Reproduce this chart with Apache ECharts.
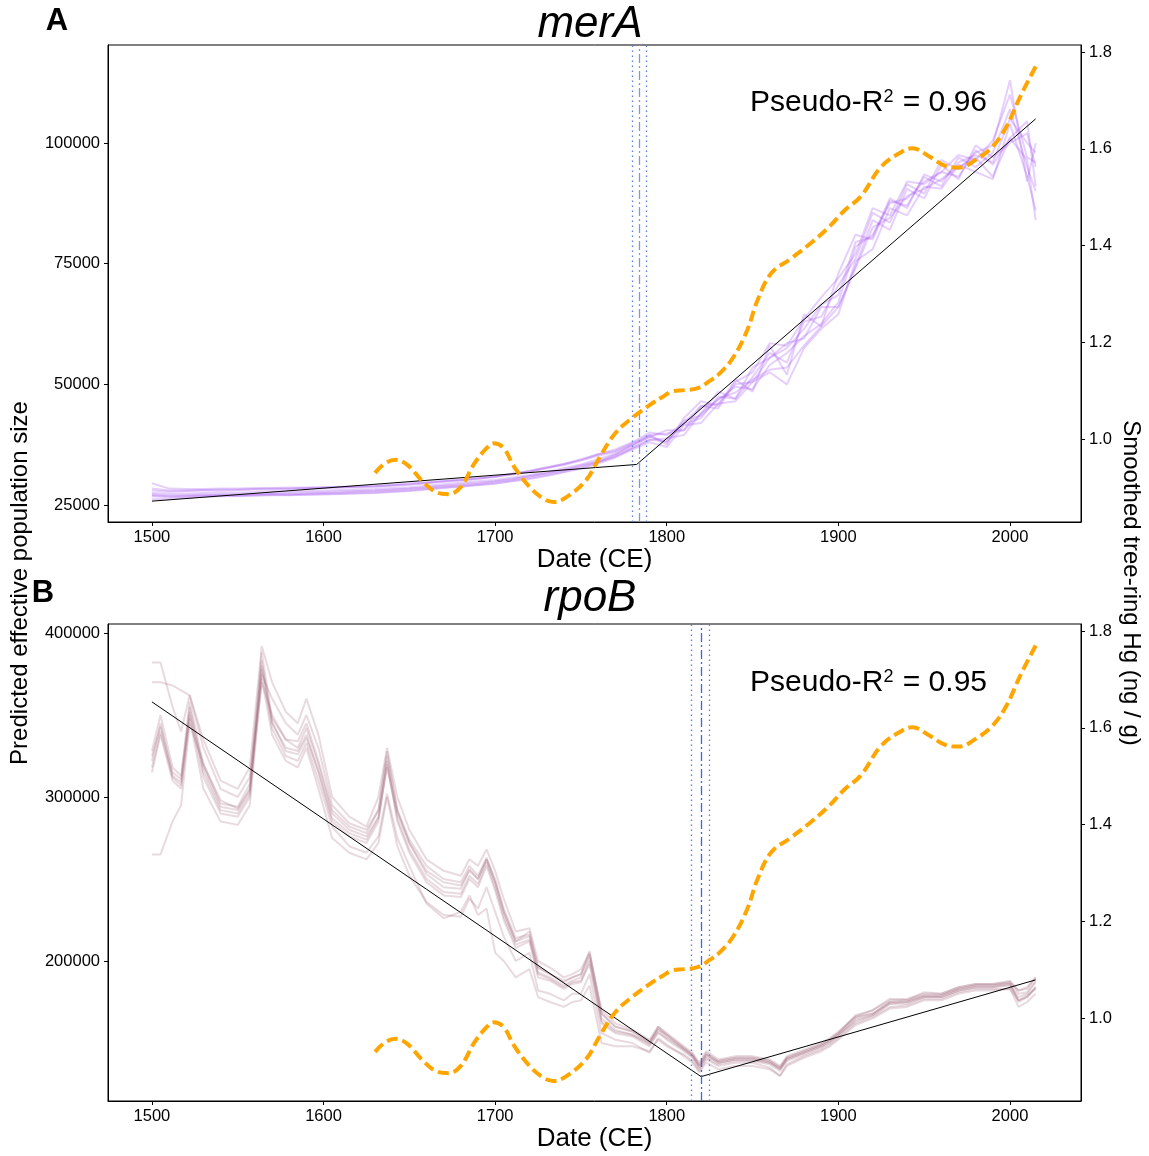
<!DOCTYPE html>
<html><head><meta charset="utf-8">
<script src="https://cdn.jsdelivr.net/npm/echarts@6/dist/echarts.min.js"></script>
<style>html,body{margin:0;padding:0;background:#fff}#c{width:1149px;height:1156px}</style>
</head><body><div id="c"></div>
<script>
// ---------- DATA ----------
const xTicks = [1500, 1600, 1700, 1800, 1900, 2000];
const leftTicksA = [25000, 50000, 75000, 100000];
const leftTicksB = [200000, 300000, 400000];
const rightTicks = [1.0, 1.2, 1.4, 1.6, 1.8];

// Panel A (merA) replicate trajectories
const yearsA = [1500,1510,1520,1530,1540,1550,1560,1570,1580,1590,1600,1610,1620,1630,1640,1650,1660,1670,1680,1690,1700,1710,1720,1730,1740,1750,1760,1770,1780,1790,1800,1810,1820,1830,1840,1850,1860,1870,1880,1890,1900,1910,1920,1930,1940,1950,1960,1970,1980,1990,2000,2010,2015];
const merA_r1 = [27000,26800,26900,27000,27100,27000,27200,27300,27200,27400,27500,27600,27800,27900,28100,28300,28600,28900,29100,29400,29800,30300,30900,31500,32200,33000,34000,35500,37500,39500,37500,43000,46500,45500,51000,48500,58000,52000,64500,62000,73000,81000,80000,88000,87000,93000,91000,97000,95000,98000,107000,95000,90000];
const merA_r2 = [28000,27800,27900,28000,28000,28100,28200,28200,28300,28400,28500,28600,28700,28800,29000,29200,29500,29800,30100,30400,30800,31300,31900,32600,33300,34200,35200,36000,37500,39000,40500,40500,44000,48500,47000,53500,55500,58500,59500,66000,66000,74500,84000,82000,90500,88500,95500,92500,99500,97000,100000,102000,95000];
const merA_r3 = [26200,26300,26500,26700,26800,26800,26900,27000,27000,27100,27200,27300,27400,27500,27700,27900,28200,28500,28800,29100,29400,29900,30400,31000,31800,32500,33600,34800,36500,38000,37000,41500,42000,46000,46500,50500,52500,50000,57500,61500,64500,75500,78000,86500,85000,91000,90500,95500,94000,92500,104000,93000,86000];
const merA_r4 = [29500,28400,28300,28300,28400,28400,28500,28500,28600,28600,28700,28800,28900,29000,29200,29500,29700,30000,30300,30600,30900,31400,32000,32700,33500,34300,35500,36500,38000,40000,39500,42000,45500,45000,50500,52500,58500,58000,63500,68000,72000,77000,86500,85000,92000,91500,94000,97500,96500,100500,110000,97000,96000];
const merA_r5 = [27200,27000,27000,27100,27200,27300,27300,27400,27500,27600,27700,27800,27900,28000,28200,28400,28700,29000,29300,29600,29900,30400,31000,31600,32300,33200,34000,35000,36800,38500,38800,39500,44000,46800,49500,49000,54000,56500,60000,62500,67000,78500,81000,87500,88500,92000,94000,93000,98500,95500,101000,104500,91000];
const merA_r6 = [26800,26600,26700,26800,26900,26900,27000,27100,27100,27200,27300,27400,27500,27600,27800,28000,28300,28600,28900,29200,29500,30000,30600,31200,31900,32700,33800,35200,36800,38500,38200,41800,43000,47500,47000,51500,56500,54500,63000,64000,70500,76000,85500,83500,91500,89500,96500,94500,98000,99500,113000,92000,100000];
const merA_r7 = [28400,28000,28000,28100,28200,28200,28300,28400,28400,28500,28600,28700,28800,28900,29100,29300,29600,29900,30200,30500,30900,31500,32100,32800,33500,34500,35500,36200,37800,39500,39800,40500,45500,46000,50000,50500,55500,57500,61500,66500,68500,79500,80500,88500,86500,93500,92000,96000,97500,96000,105000,100000,98000];
const merA_r8 = [27500,27400,27400,27500,27600,27600,27700,27800,27800,27900,28000,28100,28200,28300,28500,28700,29000,29300,29600,29900,30200,30700,31200,31800,32600,33400,34500,35600,37200,39200,38000,42500,43500,47000,48300,51000,53000,53500,58000,62000,66000,74000,82500,84500,89000,90500,92500,95000,97000,93000,101000,96500,84000];
const merA_fitYears = [1500, 1782.5, 2015];
const merA_fitVals = [25800, 33400, 105000];
const merA_break = [1780, 1784, 1788]; // lower CI, estimate, upper CI

// Panel B (rpoB) replicate trajectories
const yearsB = [1500,1505,1512,1517,1522,1530,1540,1550,1557,1564,1570,1578,1585,1590,1597,1605,1615,1625,1632,1637,1643,1650,1660,1670,1680,1685,1690,1695,1700,1705,1712,1720,1725,1732,1740,1745,1750,1755,1762,1770,1780,1790,1795,1800,1810,1815,1819,1823,1830,1840,1850,1860,1866,1870,1880,1890,1895,1900,1910,1920,1930,1940,1950,1960,1970,1980,1990,2000,2005,2010,2015];
const rpoB_r1 = [322000,345000,313000,309000,355000,315000,292000,290000,302000,383000,345000,330000,328000,338000,315000,285000,276000,272000,285000,322000,285000,266000,248000,240000,239000,250000,245000,258000,243000,225000,208000,212000,190000,188000,183000,186000,187000,200000,162000,156000,154000,148000,157000,152000,145000,141000,134000,141000,137000,139000,139000,137000,133000,139000,143000,147000,150000,154000,164000,167000,174000,174000,178000,178000,182000,184000,184000,185000,178000,180000,187000];
const rpoB_r2 = [382000,382000,355000,340000,362000,335000,310000,305000,318000,392000,370000,352000,345000,360000,338000,300000,288000,282000,300000,330000,300000,280000,262000,255000,252000,262000,258000,268000,255000,238000,218000,220000,200000,196000,190000,192000,195000,205000,170000,162000,158000,152000,160000,156000,148000,144000,138000,145000,140000,142000,142000,140000,136000,142000,146000,150000,153000,157000,166000,170000,176000,177000,180000,180000,184000,186000,186000,187000,182000,183000,190000];
const rpoB_r3 = [265000,265000,285000,295000,345000,320000,298000,293000,305000,370000,350000,335000,330000,342000,320000,290000,280000,276000,288000,318000,290000,272000,255000,248000,246000,255000,250000,262000,248000,230000,212000,215000,193000,190000,185000,188000,190000,202000,165000,158000,155000,150000,159000,154000,146000,142000,136000,143000,138000,140000,140000,138000,134000,140000,144000,148000,151000,155000,165000,168000,175000,175000,179000,179000,183000,185000,185000,186000,175000,178000,184000];
const rpoB_r4 = [370000,370000,368000,365000,362000,330000,305000,300000,312000,375000,360000,345000,338000,350000,330000,295000,284000,280000,292000,325000,292000,274000,258000,250000,248000,258000,252000,263000,250000,232000,214000,216000,196000,192000,187000,190000,192000,204000,168000,160000,157000,151000,158000,155000,147000,143000,137000,144000,139000,141000,141000,139000,135000,141000,145000,149000,152000,156000,166000,168000,175000,176000,179000,179000,183000,185000,185000,187000,180000,181000,188000];
const rpoB_r5 = [315000,338000,310000,305000,348000,305000,285000,283000,295000,372000,338000,322000,318000,330000,305000,275000,266000,262000,272000,300000,270000,252000,236000,228000,227000,238000,232000,245000,230000,215000,200000,205000,182000,180000,176000,180000,180000,192000,156000,152000,150000,144000,153000,149000,142000,138000,132000,138000,134000,136000,136000,134000,130000,136000,141000,145000,148000,152000,161000,165000,171000,172000,176000,176000,180000,182000,182000,183000,176000,178000,184000];
const rpoB_r6 = [318000,340000,312000,307000,350000,312000,290000,288000,300000,378000,342000,325000,322000,333000,310000,282000,270000,266000,276000,302000,275000,258000,235000,226000,230000,240000,228000,232000,205000,200000,190000,195000,178000,175000,172000,175000,176000,185000,150000,148000,148000,145000,152000,148000,143000,139000,133000,140000,136000,138000,138000,135000,130000,137000,142000,146000,149000,153000,162000,166000,172000,173000,177000,177000,181000,183000,183000,183000,172000,175000,180000];
const rpoB_r7 = [328000,350000,318000,313000,358000,320000,296000,294000,308000,388000,348000,335000,334000,345000,322000,292000,282000,278000,292000,328000,292000,272000,253000,245000,244000,256000,250000,262000,248000,230000,212000,218000,196000,192000,188000,190000,192000,206000,168000,160000,157000,150000,160000,155000,147000,143000,136000,143000,139000,141000,141000,139000,135000,141000,145000,149000,152000,156000,167000,170000,177000,176000,181000,180000,184000,186000,186000,188000,182000,184000,190000];
const rpoB_r8 = [325000,343000,315000,311000,352000,318000,294000,292000,304000,380000,346000,328000,326000,336000,316000,287000,278000,274000,287000,320000,287000,268000,250000,242000,241000,252000,247000,260000,245000,227000,210000,213000,192000,189000,184000,187000,188000,198000,163000,157000,155000,149000,156000,153000,146000,142000,135000,142000,138000,140000,140000,138000,134000,140000,144000,148000,151000,155000,163000,167000,174000,175000,178000,178000,182000,184000,184000,186000,176000,179000,183000];
const rpoB_fitYears = [1500, 1820, 2015];
const rpoB_fitVals = [358000, 129500, 188500];
const rpoB_break = [1814, 1820, 1825];

// Smoothed tree-ring Hg (ng/g), shared by both panels
const hgYears = [1630,1636,1642,1649,1657,1665,1673,1680,1688,1695,1699,1705,1711,1720,1728,1734,1742,1753,1761,1770,1780,1790,1798,1803,1810,1818,1825,1831,1839,1847,1853,1861,1872,1884,1895,1904,1913,1925,1937,1943,1953,1962,1970,1980,1990,1998,2006,2015];
const hgVals  = [0.930,0.950,0.957,0.946,0.915,0.891,0.886,0.901,0.950,0.981,0.991,0.981,0.943,0.901,0.877,0.870,0.881,0.915,0.963,1.012,1.044,1.070,1.088,1.098,1.101,1.105,1.120,1.136,1.170,1.226,1.288,1.343,1.372,1.405,1.440,1.474,1.501,1.563,1.594,1.601,1.584,1.565,1.561,1.577,1.605,1.646,1.708,1.770];

// ---------- CHART ----------
const F = '"Liberation Sans", Arial, Helvetica, sans-serif';
const zip = (xs, ys) => xs.map((x, i) => [x, ys[i]]);
const merA_reps = [merA_r1, merA_r2, merA_r3, merA_r4, merA_r5, merA_r6, merA_r7, merA_r8];
const rpoB_reps = [rpoB_r1, rpoB_r2, rpoB_r3, rpoB_r4, rpoB_r5, rpoB_r6, rpoB_r7, rpoB_r8];

const GL = 108, GW = 973, GH = 477, TOPA = 45, TOPB = 624;
const plain = v => String(v);
const TF = 16.5;

function xAx(gi) {
  return {
    gridIndex: gi, type: 'value', min: 1474.4, max: 2041.4,
    axisLine: { show: true, onZero: false, lineStyle: { color: '#000', width: 1 } },
    axisTick: { show: true, customValues: xTicks, length: 4, lineStyle: { color: '#000' } },
    axisLabel: { customValues: xTicks, fontSize: TF, color: '#000', fontFamily: F, margin: 7, formatter: plain },
    splitLine: { show: false },
    name: 'Date (CE)', nameLocation: 'middle', nameGap: 24,
    nameTextStyle: { fontSize: 26, fontFamily: F, color: '#000' }
  };
}
function yLeft(gi, min, max, ticks) {
  return {
    gridIndex: gi, type: 'value', position: 'left', min: min, max: max,
    axisLine: { show: true, onZero: false, lineStyle: { color: '#000', width: 1 } },
    axisTick: { show: true, customValues: ticks, length: 4, lineStyle: { color: '#000' } },
    axisLabel: { customValues: ticks, fontSize: TF, color: '#000', fontFamily: F, margin: 8, formatter: plain },
    splitLine: { show: false }
  };
}
function yRight(gi) {
  return {
    gridIndex: gi, type: 'value', position: 'right', min: 0.8284, max: 1.8145,
    axisLine: { show: true, onZero: false, lineStyle: { color: '#000', width: 1 } },
    axisTick: { show: true, customValues: rightTicks, length: 4, lineStyle: { color: '#000' } },
    axisLabel: { customValues: rightTicks, fontSize: TF, color: '#000', fontFamily: F, margin: 8,
      formatter: v => Number(v).toFixed(1) },
    splitLine: { show: false }
  };
}

const series = [];
function addPanel(gi, years, reps, color, fitX, fitY, brk, centerColor) {
  const yl = gi * 2, yr = gi * 2 + 1;
  reps.forEach(r => series.push({
    type: 'line', xAxisIndex: gi, yAxisIndex: yl, data: zip(years, r),
    symbol: 'none', silent: true, z: 2,
    lineStyle: { color: color, width: 2 }
  }));
  series.push({
    type: 'line', xAxisIndex: gi, yAxisIndex: yl, data: zip(fitX, fitY),
    symbol: 'none', silent: true, z: 4,
    lineStyle: { color: '#000', width: 1 },
    markLine: {
      silent: true, symbol: ['none', 'none'], label: { show: false },
      data: [
        { xAxis: brk[0], lineStyle: { color: '#5b7fe6', width: 1.3, type: [1.5, 3.5] } },
        { xAxis: brk[2], lineStyle: { color: '#5b7fe6', width: 1.3, type: [1.5, 3.5] } },
        { xAxis: brk[1], lineStyle: { color: centerColor, width: 1.3, type: [9, 3, 2, 3] } }
      ]
    }
  });
  series.push({
    type: 'line', xAxisIndex: gi, yAxisIndex: yr, data: zip(hgYears, hgVals),
    symbol: 'none', smooth: 0.4, silent: true, z: 5,
    lineStyle: { color: '#FFA500', width: 4, type: [11, 5] }
  });
}
addPanel(0, yearsA, merA_reps, 'rgba(165, 85, 240, 0.28)', merA_fitYears, merA_fitVals, merA_break, '#7c97e8');
addPanel(1, yearsB, rpoB_reps, 'rgba(150, 85, 110, 0.22)', rpoB_fitYears, rpoB_fitVals, rpoB_break, '#3f66e6');

const txt = (x, y, text, font, extra) => Object.assign({
  type: 'text', x: x, y: y, silent: true,
  style: { text: text, font: font, fill: '#000', textAlign: 'center', textVerticalAlign: 'middle' }
}, extra || {});

const r2Rich = { s: { fontSize: 18, fontFamily: F, verticalAlign: 'top', padding: [0, 1, 12, 0] } };

const option = {
  animation: false,
  backgroundColor: '#fff',
  grid: [
    { left: GL, top: TOPA, width: GW, height: GH, show: true, borderColor: '#000', borderWidth: 1, backgroundColor: 'transparent', outerBoundsMode: 'none', containLabel: false },
    { left: GL, top: TOPB, width: GW, height: GH, show: true, borderColor: '#000', borderWidth: 1, backgroundColor: 'transparent', outerBoundsMode: 'none', containLabel: false }
  ],
  xAxis: [xAx(0), xAx(1)],
  yAxis: [yLeft(0, 21478, 120300, leftTicksA), yRight(0), yLeft(1, 114634, 405488, leftTicksB), yRight(1)],
  series: series,
  graphic: [
    txt(57, 21, 'A', 'bold 31px ' + F),
    txt(590, 25, 'merA', 'italic 44px ' + F),
    txt(43, 593, 'B', 'bold 31px ' + F),
    txt(590, 599, 'rpoB', 'italic 44px ' + F),
    { type: 'text', x: 987, y: 103, silent: true,
      style: { text: 'Pseudo-R{s|2} = 0.96', font: '30px ' + F, fill: '#000', textAlign: 'right', textVerticalAlign: 'middle', rich: r2Rich } },
    { type: 'text', x: 987, y: 683, silent: true,
      style: { text: 'Pseudo-R{s|2} = 0.95', font: '30px ' + F, fill: '#000', textAlign: 'right', textVerticalAlign: 'middle', rich: r2Rich } },
    txt(20, 583, 'Predicted effective population size', '24px ' + F, { rotation: Math.PI / 2 }),
    txt(1131, 583, 'Smoothed tree-ring Hg (ng / g)', '24px ' + F, { rotation: -Math.PI / 2 })
  ]
};
const chart = echarts.init(document.getElementById('c'), null, { renderer: 'canvas' });
chart.setOption(option);
</script></body></html>
